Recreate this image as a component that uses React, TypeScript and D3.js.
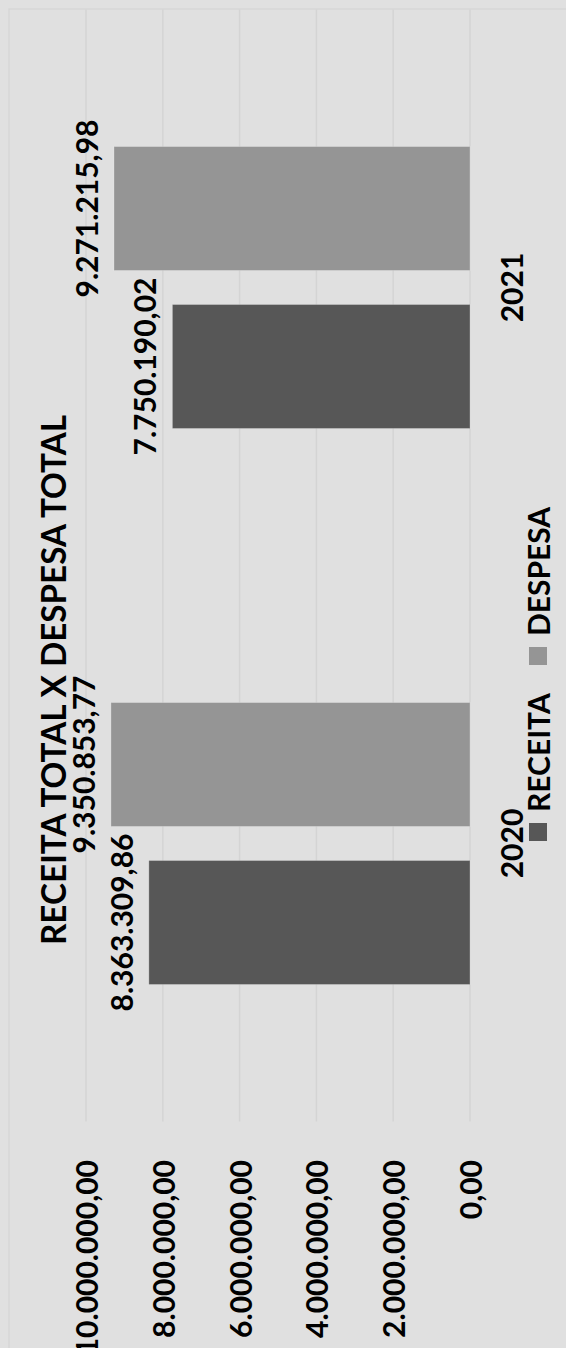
import React from 'react';
import * as d3 from 'd3';

// chart values
const years = ['2020', '2021'];
const seriesNames = ['RECEITA', 'DESPESA'];
const receita = [8363309.86, 7750190.02];
const despesa = [9350853.77, 9271215.98];
const yTicks = [0, 2000000, 4000000, 6000000, 8000000, 10000000];
const title = 'RECEITA TOTAL X DESPESA TOTAL';

const colors = { RECEITA: '#575757', DESPESA: '#959595' };

// the chart is drawn in its own frame and then turned a quarter turn
const W = 1348;
const H = 566;
const FONT = 'Lato, "Open Sans", sans-serif';

const br = d3.formatLocale({ decimal: ',', thousands: '.', grouping: [3], currency: ['R$', ''] });
const fmt = br.format(',.2f');

const App = () => {
  const x0 = d3.scaleBand().domain(years).range([226.5, 1338.5]);
  const x1 = d3.scaleBand().domain(seriesNames).range([0, 282]).paddingInner(0.2152);
  const y = d3.scaleLinear().domain([0, 10000000]).range([470, 86]);

  const rows = years.map((yr, i) => ({ year: yr, values: [receita[i], despesa[i]] }));

  return (
    <div style={{ position: 'fixed', left: 0, top: 0 }}>
      <svg width={H} height={W} style={{ display: 'block' }}>
        <rect width={H} height={W} fill="#e0e0e0" />
        <g transform={`translate(0,${W}) rotate(-90)`}>
          {/* chart area border, cut by the picture edges */}
          <rect x={-20} y={9} width={1359} height={600} fill="none" stroke="#d6d6d6" strokeWidth={1.5} />

          {/* gridlines */}
          {yTicks.map((t) => (
            <line key={t} x1={226.5} x2={1338.5} y1={y(t)} y2={y(t)} stroke="#d4d4d4" strokeWidth={1.5} />
          ))}

          {/* tick labels */}
          {yTicks.map((t) => (
            <text key={t} x={188} y={y(t)} textAnchor="end" dominantBaseline="central"
              fontFamily={FONT} fontWeight="bold" fontSize={30} fill="#000">
              {fmt(t)}
            </text>
          ))}

          {/* bars */}
          {rows.map((r) => {
            const gx = x0(r.year)! + x0.bandwidth() / 2 - 141;
            return (
              <g key={r.year} transform={`translate(${gx},0)`}>
                {r.values.map((v, j) => (
                  <g key={seriesNames[j]}>
                    <rect x={x1(seriesNames[j])} y={y(v)} width={x1.bandwidth()} height={y(0) - y(v)}
                      fill={colors[seriesNames[j]]} stroke="rgba(255,255,255,0.25)" strokeWidth={1} />
                    <text x={x1(seriesNames[j])! + x1.bandwidth() / 2} y={y(v) - 28} textAnchor="middle"
                      dominantBaseline="central" fontFamily={FONT} fontWeight="bold" fontSize={30} fill="#000">
                      {fmt(v)}
                    </text>
                  </g>
                ))}
              </g>
            );
          })}

          {/* category labels */}
          {years.map((yr) => (
            <text key={yr} x={x0(yr)! + x0.bandwidth() / 2} y={511} textAnchor="middle" dominantBaseline="central"
              fontFamily={FONT} fontWeight="bold" fontSize={30} fill="#000">
              {yr}
            </text>
          ))}

          {/* title */}
          <text x={668} y={52} textAnchor="middle" dominantBaseline="central" fontFamily={FONT}
            fontWeight="bold" fontSize={35} fill="#000" textLength={530} lengthAdjust="spacingAndGlyphs">
            {title}
          </text>

          {/* legend */}
          {seriesNames.map((s, i) => {
            const lx = 507 + i * 176;
            return (
              <g key={s}>
                <rect x={lx} y={529} width={18} height={18} fill={colors[s]} />
                <text x={lx + 29} y={538} dominantBaseline="central" fontFamily={FONT} fontWeight="bold"
                  fontSize={30} fill="#000">
                  {s}
                </text>
              </g>
            );
          })}
        </g>
      </svg>
    </div>
  );
};

export default App;
